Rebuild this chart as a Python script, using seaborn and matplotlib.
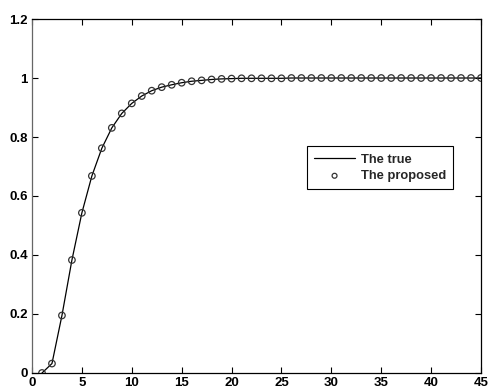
import matplotlib
matplotlib.use("Agg")
import matplotlib.pyplot as plt
import seaborn as sns
import pandas as pd
import numpy as np

x_vals = list(range(1, 46))
y_vals = [0.0, 0.032, 0.195, 0.383, 0.543, 0.668, 0.762, 0.831, 0.880, 0.914,
          0.939, 0.957, 0.969, 0.977, 0.984, 0.989, 0.992, 0.995, 0.997, 0.998] + [0.999] * 5 + [1.0] * 20
x_ticks = [0, 5, 10, 15, 20, 25, 30, 35, 40, 45]
y_ticks = [0, 0.2, 0.4, 0.6, 0.8, 1.0, 1.2]
y_tick_labels = ["0", "0.2", "0.4", "0.6", "0.8", "1", "1.2"]
series_true = "The true"
series_proposed = "The proposed"

df = pd.DataFrame({"x": x_vals, "y": y_vals})

sns.set_style("ticks")
plt.rcParams["font.family"] = ["Liberation Sans", "DejaVu Sans"]
plt.rcParams["font.weight"] = "bold"

fig = plt.figure(figsize=(4.88, 3.92), dpi=100)
ax = fig.add_axes([0.0656, 0.0485, 0.920, 0.903])

sns.lineplot(data=df, x="x", y="y", ax=ax, color="black", linewidth=0.9, label=series_true)
sns.scatterplot(data=df, x="x", y="y", ax=ax, marker="o", s=22, facecolor="none",
                edgecolor="#333333", linewidth=0.9, label=series_proposed, zorder=3)

ax.set_xlim(0, 45)
ax.set_ylim(0, 1.2)
ax.set_xticks(x_ticks)
ax.set_xticklabels([str(t) for t in x_ticks])
ax.set_yticks(y_ticks)
ax.set_yticklabels(y_tick_labels)
ax.set_xlabel("")
ax.set_ylabel("")
ax.tick_params(direction="in", top=True, right=True, length=4, width=0.8,
               labelsize=9.5, pad=3, colors="black")
for lab in ax.get_xticklabels() + ax.get_yticklabels():
    lab.set_fontweight("bold")
for side in ["top", "right", "bottom", "left"]:
    ax.spines[side].set_visible(True)
    ax.spines[side].set_color("black")
    ax.spines[side].set_linewidth(0.9)
ax.spines["left"].set_color("#666666")

leg = ax.legend(loc="upper left", bbox_to_anchor=(0.612, 0.64), frameon=True, fancybox=False,
                edgecolor="black", framealpha=1, fontsize=9.3, handlelength=3.2,
                borderpad=0.55, labelspacing=0.35, handletextpad=0.45, borderaxespad=0,
                markerscale=0.75)
leg.get_frame().set_linewidth(0.8)
for t in leg.get_texts():
    t.set_fontweight("bold")

fig.savefig("out.png", dpi=100)
